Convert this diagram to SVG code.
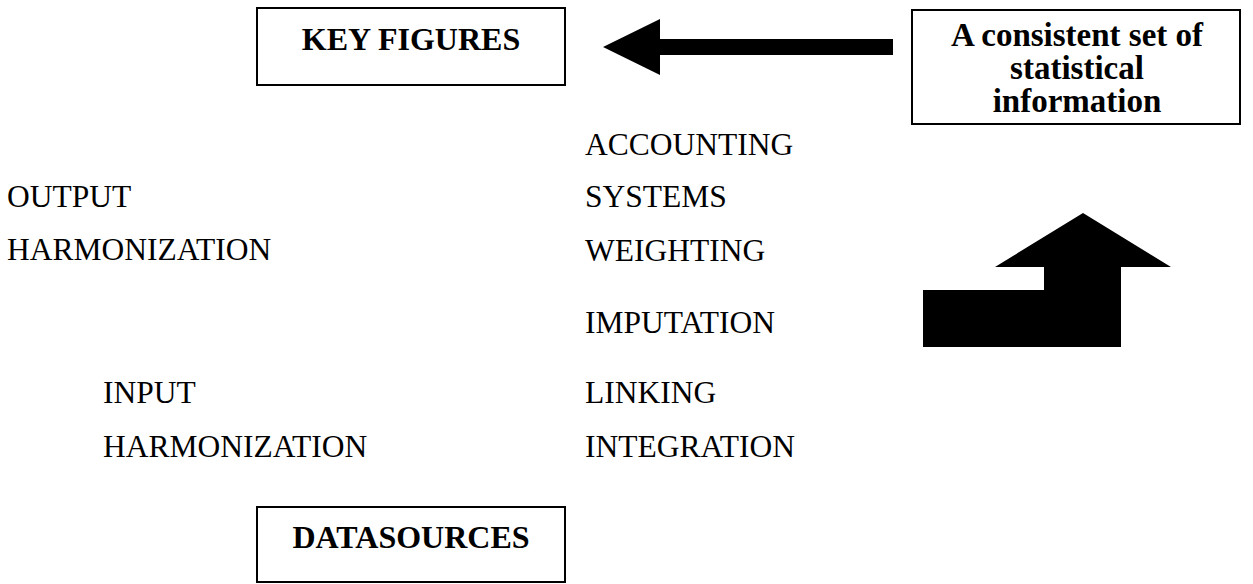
<svg xmlns="http://www.w3.org/2000/svg" width="1253" height="584" viewBox="0 0 1253 584">
<style>
.box{fill:#fff;stroke:#000;stroke-width:2}
.t{font-family:"Liberation Serif","Times New Roman",serif;font-size:31.5px;fill:#000}
.b{font-family:"Liberation Serif","Times New Roman",serif;font-size:32px;font-weight:bold;fill:#000;text-anchor:middle}
.b2{font-size:33px}
.arrow{fill:#000;stroke:none}
</style>
<rect width="1253" height="584" fill="#fff"/>
<g id="key-figures">
<rect class="box" x="257" y="8" width="308" height="77"/>
<text class="b" x="411" y="50">KEY FIGURES</text>
</g>
<g id="consistent-set">
<rect class="box" x="912" y="10" width="328" height="114"/>
<text class="b b2" x="1077" y="46">A consistent set of</text>
<text class="b b2" x="1077" y="79">statistical</text>
<text class="b b2" x="1077" y="112">information</text>
</g>
<g id="datasources">
<rect class="box" x="257" y="507" width="308" height="75"/>
<text class="b" x="411" y="548">DATASOURCES</text>
</g>
<g id="labels-left">
<text class="t" x="7" y="207">OUTPUT</text>
<text class="t" x="7" y="260">HARMONIZATION</text>
<text class="t" x="103" y="403">INPUT</text>
<text class="t" x="103" y="457">HARMONIZATION</text>
</g>
<g id="labels-middle">
<text class="t" x="585" y="155">ACCOUNTING</text>
<text class="t" x="585" y="207">SYSTEMS</text>
<text class="t" x="585" y="261">WEIGHTING</text>
<text class="t" x="585" y="333">IMPUTATION</text>
<text class="t" x="585" y="403">LINKING</text>
<text class="t" x="585" y="457">INTEGRATION</text>
</g>
<g id="connectors">
<polygon class="arrow" points="603,47 660,19 660,39 893,39 893,55 660,55 660,75"/>
<polygon class="arrow" points="1083,213 1171,267 1121,267 1121,347 923,347 923,290 1044,290 1044,267 995,267"/>
</g>
</svg>
